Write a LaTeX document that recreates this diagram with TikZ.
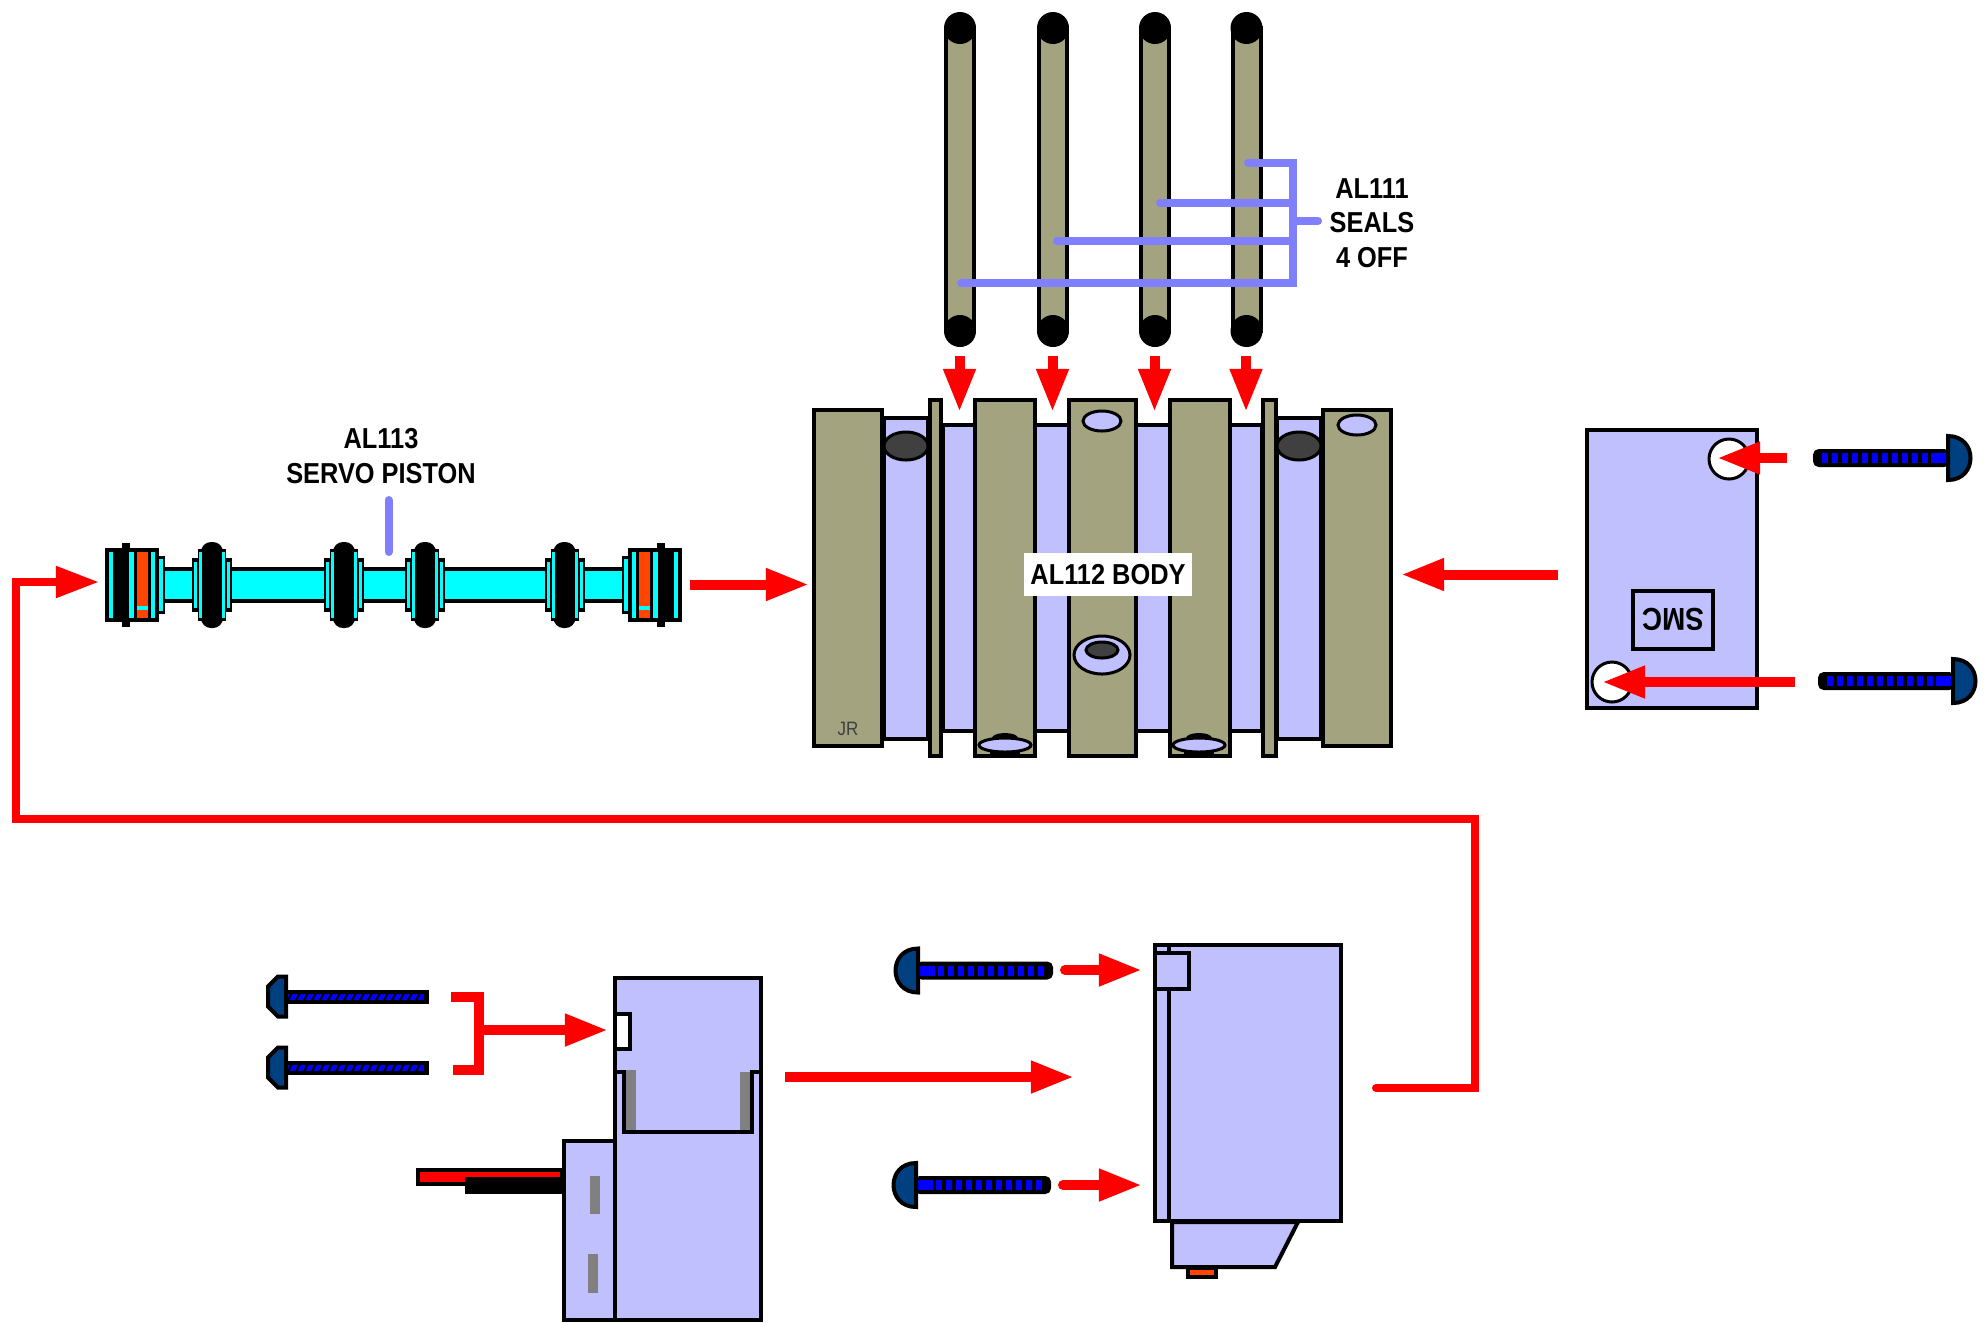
\documentclass[tikz,border=0pt]{standalone}
\usepackage{fontspec}
\setmainfont{Liberation Sans}[FakeStretch=0.88]
\usepackage{tikz}
\usetikzlibrary{arrows.meta}
\definecolor{olive}{RGB}{163,163,128}
\definecolor{lav}{RGB}{192,192,255}
\definecolor{lead}{RGB}{128,128,255}
\definecolor{head}{RGB}{0,64,128}
\definecolor{orangered}{RGB}{255,69,0}
\definecolor{dark}{RGB}{64,64,64}
\definecolor{bar}{RGB}{128,128,128}
\definecolor{rod}{RGB}{0,255,255}
\definecolor{thread}{RGB}{0,0,255}
\definecolor{arrowred}{RGB}{255,0,0}
\tikzstyle{part}=[solid,draw=black,line width=0.04cm,line join=miter]
\tikzstyle{lavpart}=[part,fill=lav]
\tikzstyle{olivepart}=[part,fill=olive]
\tikzstyle{blackfill}=[fill=black,draw=none]
\tikzstyle{cyanfill}=[fill=rod,draw=none]
\tikzstyle{leadline}=[solid,draw=lead,line width=0.08cm,line cap=round]
\tikzstyle{redline}=[solid,draw=arrowred,line width=0.1cm]
\tikzstyle{redarrow}=[redline,-{Triangle[length=0.43cm,width=0.3cm]}]
\tikzstyle{partlabel}=[font=\fontsize{8.2}{10}\selectfont\bfseries,align=center,inner sep=0pt]
\newcommand{\pistonring}[1]{
	\begin{scope}[shift={(#1,585)}]
		\fill[blackfill] (-20,-27) rectangle (20,27);
		\fill[blackfill] (-14,-36) rectangle (14,36);
		\fill[cyanfill] (-18,-23) rectangle (-15,23);
		\fill[cyanfill] (15,-23) rectangle (18,23);
		\fill[blackfill,rounded corners=0.1cm] (-11,-43) rectangle (11,43);
		\fill[cyanfill] (-13,-33) rectangle (-10,33);
		\fill[cyanfill] (10,-33) rectangle (13,33);
	\end{scope}
}
\newcommand{\pistonend}[1]{
	\begin{scope}[#1]
		\fill[blackfill] (105,548) rectangle (159,622);
		\fill[blackfill] (122,543) rectangle (130,627);
		\fill[blackfill] (159,556) rectangle (165,614);
		\fill[cyanfill] (109,552) rectangle (113,618);
		\fill[cyanfill] (129,552) rectangle (134,618);
		\fill[cyanfill] (151,552) rectangle (155,618);
		\fill[cyanfill] (159,559) rectangle (163,611);
		\fill[orangered] (137,552) rectangle (148,618);
		\fill[cyanfill] (137,606) rectangle (148,610);
	\end{scope}
}
\newcommand{\bigscrew}[3]{
	\begin{scope}[shift={(#1,#2)},xscale=#3]
		\draw[part,fill=black,rounded corners=0.04cm] (0,-7) rectangle (133,7);
		\fill[thread] (0,-5) rectangle (17,5);
		\foreach \i in {20,30,...,120}
			\fill[thread] (\i,-5) rectangle (\i+6,5);
		\draw[part,fill=head] (0,-22) .. controls (-30,-22) and (-30,22) .. (0,22) -- cycle;
	\end{scope}
}
\newcommand{\thinscrew}[2]{
	\begin{scope}[shift={(#1,#2)}]
		\fill[blackfill] (0,-7) rectangle (143,7);
		\fill[thread] (0,-3) rectangle (138,3);
		\foreach \i in {2,10,...,130}
			\draw[black,line width=0.02cm] (\i,4) -- (\i+4,-4);
		\draw[part,fill=head] (0,-20) -- (-8,-20) -- (-18,-10) -- (-18,10) -- (-8,20) -- (0,20) -- cycle;
	\end{scope}
}
\newcommand{\bodyhole}[1]{
	\fill[blackfill] (#1,738) ellipse [x radius=13,y radius=5];
	\fill[blackfill] (#1-15,750) rectangle (#1+15,757);
	\draw[lavpart,line width=0.03cm] (#1,745) ellipse [x radius=26,y radius=7];
}

\begin{document}
\begin{tikzpicture}[x=0.01cm,y=-0.01cm]
	\useasboundingbox (0,0) rectangle (1988,1323);

	\foreach \x [count=\n] in {960,1053,1155,1246.5}{
		\draw[olivepart] (\x-14,28) rectangle (\x+14,331);
		\fill[blackfill] (\x,28) circle [radius=16];
		\fill[blackfill] (\x,331) circle [radius=16];
		\coordinate (seal\n top) at (\x-0.5,356);
		\coordinate (seal\n tip) at (\x-0.5,412);
		\draw[redarrow] (seal\n top) -- (seal\n tip);
	}
	\coordinate (busa) at (1293,163);
	\coordinate (busb) at (1293,283);
	\coordinate (busout) at (1318,221);
	\draw[leadline] (1248,163) -- (busa) -- (busb) -- (961,283);
	\draw[leadline] (1160,203) -- (1293,203);
	\draw[leadline] (1057,241) -- (1293,241);
	\draw[leadline] (1293,221) -- (busout);
	\node[partlabel,font=\fontsize{8.2}{9.8}\selectfont\bfseries] (seallabel) at (1372,223) {AL111\\SEALS\\4 OFF};

	\draw[lavpart] (943,425) rectangle (1262,731);
	\draw[lavpart] (884,418) rectangle (928,739);
	\draw[lavpart] (1277,418) rectangle (1321,739);
	\foreach \xa/\xb in {930/941,975/1035,1069/1136,1170/1230,1263/1276}
		\draw[olivepart] (\xa,400) rectangle (\xb,756);
	\draw[olivepart] (814,410) rectangle (882,746);
	\draw[olivepart] (1323,410) rectangle (1391,746);
	\draw[part,line width=0.03cm,fill=dark] (906,446) ellipse [x radius=22,y radius=14];
	\draw[part,line width=0.03cm,fill=dark] (1299,446) ellipse [x radius=22,y radius=14];
	\draw[lavpart,line width=0.03cm] (1102,421) ellipse [x radius=19,y radius=10];
	\draw[lavpart,line width=0.03cm] (1357,425) ellipse [x radius=19,y radius=10];
	\draw[lavpart,line width=0.03cm] (1102,655) ellipse [x radius=28,y radius=19];
	\draw[part,line width=0.03cm,fill=dark] (1102,650) ellipse [x radius=16,y radius=8];
	\bodyhole{1005}
	\bodyhole{1199}
	\node[font=\fontsize{5.5}{6}\selectfont,text=dark,inner sep=0pt] (maker) at (848,729) {JR};
	\node[partlabel,fill=white,minimum width=1.68cm,minimum height=0.43cm] (bodylabel) at (1108,574.5) {AL112 BODY};

	\draw[part,fill=rod,line width=0.035cm] (160,569) rectangle (630,601);
	\pistonend{}
	\pistonend{shift={(787,0)},xscale=-1}
	\foreach \x in {212,344,425,564.5}
		\pistonring{\x}
	\coordinate (pointertop) at (388.5,500);
	\coordinate (pointerend) at (388.5,552);
	\draw[leadline] (pointertop) -- (pointerend);
	\node[partlabel] (pistonlabel) at (381,456) {AL113\\SERVO PISTON};

	\draw[lavpart] (1587,430) rectangle (1757,708);
	\draw[part,line width=0.03cm,fill=white] (1729,459) circle [radius=20];
	\draw[part,line width=0.03cm,fill=white] (1612,682) circle [radius=20];
	\draw[part] (1633,591) rectangle (1713,649);
	\node[font=\fontsize{9}{10}\selectfont\bfseries,inner sep=0pt,rotate=180] (smclabel) at (1673,619.5) {SMC};
	\bigscrew{1948}{458}{-1}
	\bigscrew{1953}{681}{-1}
	\bigscrew{918}{970.5}{1}
	\bigscrew{916}{1185}{1}
	\thinscrew{286}{996.5}
	\thinscrew{286}{1067.5}

	\draw[lavpart] (615,978) rectangle (761,1320);
	\draw[lavpart] (564,1141) rectangle (615,1320);
	\draw[part,fill=white] (615,1014) rectangle (630,1049);
	\draw[part] (615,1072) -- (624,1072) -- (624,1132) -- (752,1132) -- (752,1072) -- (761,1072);
	\fill[bar] (626,1070) rectangle (636,1130);
	\fill[bar] (740,1072) rectangle (750,1130);
	\fill[bar] (590,1176) rectangle (600,1214);
	\fill[bar] (588,1254) rectangle (598,1293);
	\draw[part,fill=arrowred] (418,1170) rectangle (562,1184);
	\fill[blackfill] (465,1177) rectangle (562,1194);

	\draw[lavpart] (1172,1222) -- (1172,1267) -- (1275,1267) -- (1298,1222) -- cycle;
	\draw[part,fill=orangered] (1188,1268) rectangle (1216,1277);
	\draw[lavpart] (1155,945) rectangle (1341,1221);
	\draw[part] (1169,945) -- (1169,1221);
	\draw[lavpart] (1155,953) rectangle (1189,989);

	\coordinate (lineout) at (1376,1088);
	\coordinate (linein) at (99,582);
	\draw[redline,line width=0.08cm,line cap=round,-{Triangle[length=0.43cm,width=0.3cm]}] (lineout) -- (1475,1088) -- (1475,819) -- (16,819) -- (16,582) -- (linein);
	\coordinate (pistonout) at (690,584.5);
	\coordinate (bodyleft) at (809,584.5);
	\draw[redarrow] (pistonout) -- (bodyleft);
	\coordinate (plateout) at (1558,574.5);
	\coordinate (bodyright) at (1401,574.5);
	\draw[redarrow] (plateout) -- (bodyright);
	\coordinate (screwa) at (1787,458);
	\coordinate (holea) at (1717,458);
	\draw[redarrow] (screwa) -- (holea);
	\coordinate (screwb) at (1795,682);
	\coordinate (holeb) at (1602,682);
	\draw[redarrow] (screwb) -- (holeb);
	\coordinate (actuatorout) at (785,1077);
	\coordinate (housingin) at (1074,1077);
	\draw[redarrow] (actuatorout) -- (housingin);
	\coordinate (screwc) at (1065,970);
	\coordinate (housinga) at (1142,970);
	\draw[redarrow,line cap=round] (screwc) -- (housinga);
	\coordinate (screwd) at (1063,1185);
	\coordinate (housingb) at (1142,1185);
	\draw[redarrow,line cap=round] (screwd) -- (housingb);
	\coordinate (brackettop) at (451,996.5);
	\coordinate (bracketend) at (453,1070);
	\draw[redline] (brackettop) -- (478.5,996.5) -- (478.5,1070) -- (bracketend);
	\coordinate (bracketout) at (478.5,1030);
	\coordinate (actuatorin) at (608,1030);
	\draw[redarrow] (bracketout) -- (actuatorin);
\end{tikzpicture}
\end{document}
